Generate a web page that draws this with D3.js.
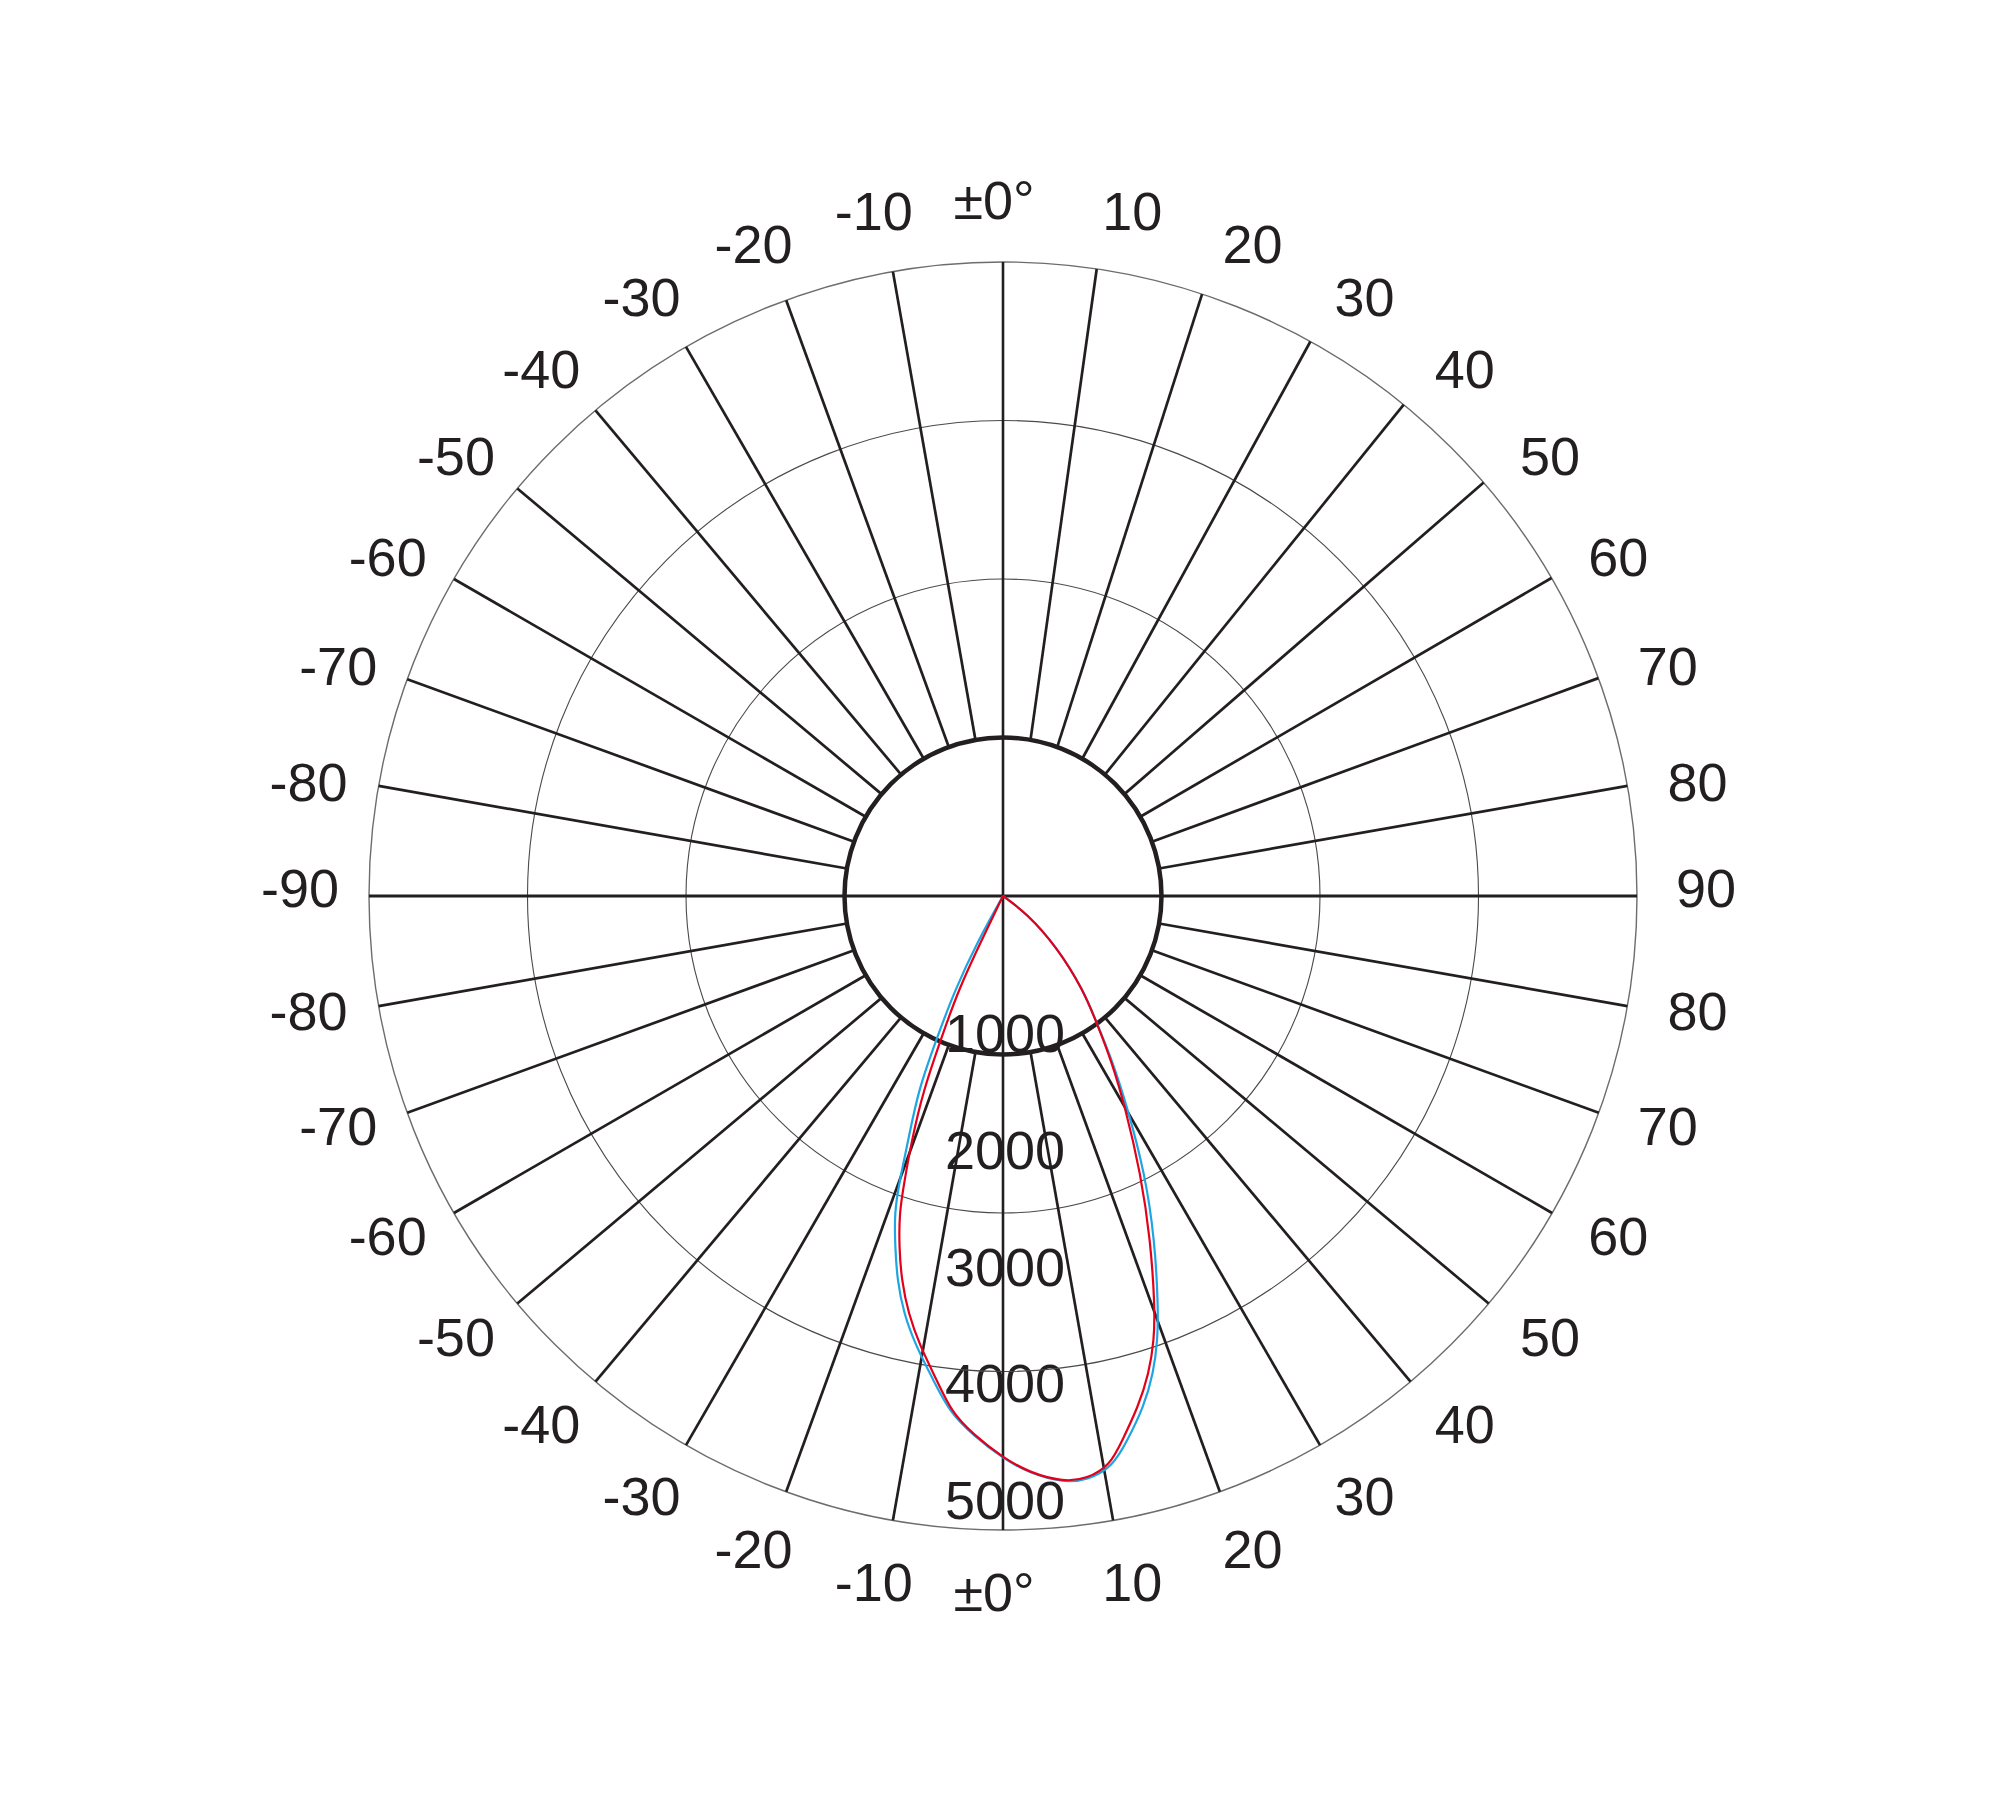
<!DOCTYPE html>
<html>
<head>
<meta charset="utf-8">
<script src="https://cdn.jsdelivr.net/npm/d3@7/dist/d3.min.js"></script>
<style>
  html, body { margin: 0; padding: 0; background: #ffffff; }
  svg { display: block; }
  text { font-family: "Liberation Sans", Arial, sans-serif; fill: #231f20; }
</style>
</head>
<body>
<svg id="chart" width="2000" height="1796"></svg>
<script>
// ---------- data ----------
// angle ticks (degrees); upper half measured from zenith, lower half from nadir
const upperAngles = [-90, -80, -70, -60, -50, -40, -30, -20, -10, 0, 10, 20, 30, 40, 50, 60, 70, 80, 90];
const lowerAngles = [-80, -70, -60, -50, -40, -30, -20, -10, 0, 10, 20, 30, 40, 50, 60, 70, 80];
const spokeAngles = d3.range(0, 360, 10);
// the upper-right spokes (10..80) lean slightly toward the zenith at their outer end (deg)
const upperRightSpokeTilt = [-1.5, -1.7, -1.0, -0.8, -0.7, -0.1, -0.1, 0];
// intensity labels (cd)
const intensityLabels = [1000, 2000, 3000, 4000, 5000];
// rings
const ringValues = [1250, 2500, 3750, 5000];

// curve C0-C180 (red): angle from nadir (deg, + to the right), intensity (cd)
const redAngles = [-27, -25.8, -25.4, -23.5, -22.3, -20.5, -19.0, -18.1, -16.5, -14.8, -12.8, -10.4, -7.8, -5.7, -3.2, 0, 2.7, 5.9, 8.2, 10.7, 12.3, 14.8, 17.0, 18.8, 20.3, 23.2, 26.4, 30.1, 33.4, 36.4, 40.5, 46.6, 53.9, 59];
const redValues = [0, 386, 821, 1210, 1654, 2054, 2397, 2632, 2884, 3132, 3374, 3614, 3852, 4090, 4250, 4430, 4555, 4645, 4645, 4565, 4400, 4170, 3937, 3699, 3453, 2953, 2442, 1920, 1549, 1247, 975, 583, 231, 0];

// curve C90-C270 (blue)
const blueAngles = [-31.3, -29.3, -27.1, -25.0, -23.6, -21.2, -19.9, -18.9, -17.1, -15.4, -13.4, -10.9, -8.2, -5.9, -3.2, 0, 2.7, 5.9, 8.2, 10.9, 12.8, 15.4, 17.5, 19.2, 20.7, 23.8, 27.1, 30.5, 33.6, 36.4, 40.5, 46.6, 53.9, 59];
const blueValues = [0, 398, 832, 1225, 1669, 2064, 2408, 2644, 2893, 3141, 3382, 3620, 3856, 4092, 4257, 4436, 4560, 4651, 4655, 4582, 4410, 4180, 3946, 3708, 3463, 2966, 2457, 1929, 1555, 1250, 978, 585, 232, 0];

// ---------- layout ----------
const cx = 1003, cy = 896, R = 634;
const ink = "#231f20";
const svg = d3.select("#chart");
svg.append("rect").attr("width", 2000).attr("height", 1796).attr("fill", "#fff");
const g = svg.append("g").attr("transform", `translate(${cx},${cy})`);

const r = d3.scaleLinear().domain([0, 5000]).range([0, R]);
const labelR = d3.scaleLinear().domain([1000, 5000]).range([156, 623]);
const rad = d => d * Math.PI / 180;

// intensity labels (under the lines)
g.selectAll("text.val").data(intensityLabels).join("text")
  .attr("class", "val")
  .attr("x", 2)
  .attr("y", d => labelR(d))
  .attr("text-anchor", "middle")
  .attr("font-size", 54)
  .text(d => d);

// thin rings (outer ones)
g.selectAll("circle.ring").data(ringValues.slice(1)).join("circle")
  .attr("class", "ring")
  .attr("r", d => r(d))
  .attr("fill", "none")
  .attr("stroke", d => d === 5000 ? "#6d6d6d" : "#4a4a4a")
  .attr("stroke-width", d => d === 5000 ? 1.4 : 1.1);

// spokes
const inner = r(ringValues[0]);
const outerAngle = a => (a > 0 && a < 90) ? a + upperRightSpokeTilt[a / 10 - 1] : a;
g.selectAll("line.spoke").data(spokeAngles.filter(a => a % 90 !== 0)).join("line")
  .attr("class", "spoke")
  .attr("x1", a => inner * Math.sin(rad(a)))
  .attr("y1", a => -inner * Math.cos(rad(a)))
  .attr("x2", a => R * Math.sin(rad(outerAngle(a))))
  .attr("y2", a => -R * Math.cos(rad(outerAngle(a))))
  .attr("stroke", ink)
  .attr("stroke-width", 2.7);

// full axes
g.append("line").attr("x1", -R).attr("x2", R).attr("y1", 0).attr("y2", 0)
  .attr("stroke", ink).attr("stroke-width", 2.8);
g.append("line").attr("x1", 0).attr("x2", 0).attr("y1", -R).attr("y2", R)
  .attr("stroke", ink).attr("stroke-width", 2.6);

// inner thick circle
g.append("circle").attr("r", inner).attr("fill", "none")
  .attr("stroke", ink).attr("stroke-width", 4.5);

// curves
const line = d3.lineRadial()
  .angle(d => Math.PI - rad(d[0]))
  .radius(d => r(d[1]))
  .curve(d3.curveBasis);

const blueData = blueAngles.map((a, i) => [a, blueValues[i]]);
const redData = redAngles.map((a, i) => [a, redValues[i]]);
g.append("path").attr("d", line(blueData)).attr("fill", "none")
  .attr("stroke", "#1ea5e2").attr("stroke-width", 2.2);
g.append("path").attr("d", line(redData)).attr("fill", "none")
  .attr("stroke", "#e2001a").attr("stroke-width", 2.2);

// angle labels
const fmt = a => a === 0 ? "±0°" : String(a);
function labelPos(a, upper) {
  const m = Math.abs(a);
  if (m === 90) return [Math.sign(a) * 703, -8];
  const L = 696 + 8 * Math.sin(rad(m));
  const aa = a + Math.sign(a) * (0.4 + 0.8 * Math.sin(rad(2 * m)));
  const x = L * Math.sin(rad(aa)) + (a === 0 ? -9 : 0);
  const y = (upper ? -1 : 1) * L * Math.cos(rad(aa));
  return [x, y];
}
function placeLabels(angles, upper, cls) {
  g.selectAll("text." + cls).data(angles).join("text")
    .attr("class", cls)
    .attr("x", a => labelPos(a, upper)[0])
    .attr("y", a => labelPos(a, upper)[1])
    .attr("dy", "0.36em")
    .attr("text-anchor", "middle")
    .attr("font-size", 54)
    .text(fmt);
}
placeLabels(upperAngles, true, "up");
placeLabels(lowerAngles, false, "down");
</script>
</body>
</html>
